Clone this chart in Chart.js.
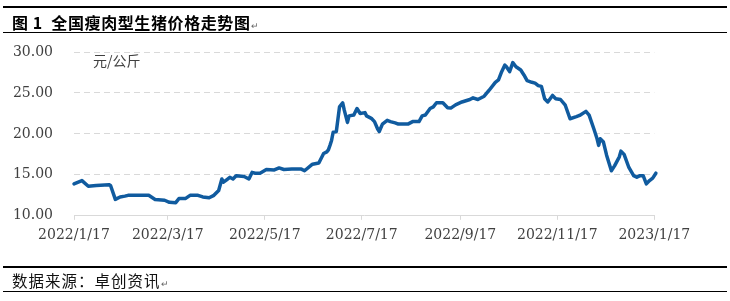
<!DOCTYPE html>
<html>
<head>
<meta charset="utf-8">
<script src="https://cdn.jsdelivr.net/npm/chart.js@4/dist/chart.umd.min.js"></script>
<style>
html,body{margin:0;padding:0;background:#fff;}
#wrap{position:relative;width:730px;height:301px;overflow:hidden;background:#fff;}
#c{position:absolute;left:0;top:0;}
.rule{position:absolute;left:3px;width:724px;height:1.5px;background:#000;}
.title{position:absolute;left:12px;top:11px;font-family:"Noto Sans CJK SC";font-weight:700;font-size:16px;line-height:22px;letter-spacing:0.6px;color:#000;white-space:nowrap;}
.src{position:absolute;left:12px;top:269px;font-family:"Noto Sans CJK SC";font-size:15.5px;line-height:22px;letter-spacing:1px;color:#111;white-space:nowrap;}
.unit{position:absolute;left:93px;top:51px;font-family:"Noto Sans CJK SC";font-size:14px;line-height:18px;color:#404040;white-space:nowrap;}
.pm{font-size:9px;font-weight:400;color:#666;letter-spacing:0;}
</style>
</head>
<body>
<div id="wrap">
  <canvas id="c" width="730" height="301"></canvas>
  <div class="rule" style="top:5.5px;height:2px;"></div>
  <div class="title">图 1&nbsp; 全国瘦肉型生猪价格走势图<span class="pm">↵</span></div>
  <div class="rule" style="top:31.5px;"></div>
  <div class="unit">元/公斤</div>
  <div class="rule" style="top:266px;"></div>
  <div class="src">数据来源：卓创资讯<span class="pm">↵</span></div>
  <div class="rule" style="top:290.5px;"></div>
</div>
<script>
// ---- data ----
const dates = [
  "2022-01-17","2022-01-22","2022-01-26","2022-01-31","2022-02-08","2022-02-09","2022-02-12","2022-02-15",
  "2022-02-18","2022-02-20","2022-03-05","2022-03-09","2022-03-15","2022-03-18","2022-03-22","2022-03-24",
  "2022-03-28","2022-03-31","2022-04-05","2022-04-08","2022-04-12","2022-04-15","2022-04-18","2022-04-20",
  "2022-04-21","2022-04-23","2022-04-25","2022-04-27","2022-04-29","2022-05-04","2022-05-07","2022-05-09",
  "2022-05-11","2022-05-14","2022-05-18","2022-05-23","2022-05-26","2022-05-29","2022-06-03","2022-06-09",
  "2022-06-11","2022-06-16","2022-06-20","2022-06-23","2022-06-25","2022-06-26","2022-06-27","2022-06-28",
  "2022-06-29","2022-07-01","2022-07-03","2022-07-05","2022-07-06","2022-07-08","2022-07-09","2022-07-12",
  "2022-07-14","2022-07-16","2022-07-19","2022-07-20","2022-07-23","2022-07-25","2022-07-27","2022-07-28",
  "2022-07-30","2022-08-02","2022-08-04","2022-08-07","2022-08-09","2022-08-12","2022-08-15","2022-08-18",
  "2022-08-22","2022-08-24","2022-08-26","2022-08-29","2022-08-31","2022-09-02","2022-09-06","2022-09-09",
  "2022-09-11","2022-09-14","2022-09-18","2022-09-23","2022-09-25","2022-09-28","2022-10-02","2022-10-05",
  "2022-10-09","2022-10-11","2022-10-13","2022-10-15","2022-10-16","2022-10-18","2022-10-20","2022-10-22",
  "2022-10-25","2022-10-27","2022-10-29","2022-11-01","2022-11-03","2022-11-05","2022-11-07","2022-11-09",
  "2022-11-11","2022-11-14","2022-11-16","2022-11-19","2022-11-22","2022-11-25","2022-11-29","2022-12-01",
  "2022-12-05","2022-12-07","2022-12-10","2022-12-12","2022-12-13","2022-12-14","2022-12-16","2022-12-18",
  "2022-12-21","2022-12-23","2022-12-26","2022-12-27","2022-12-29","2023-01-01","2023-01-04","2023-01-06",
  "2023-01-08","2023-01-10","2023-01-12","2023-01-14","2023-01-16","2023-01-18"
];
const prices = [
  13.9,14.3,13.6,13.7,13.8,13.7,12.0,12.3,
  12.4,12.5,12.5,12.0,11.9,11.65,11.6,12.1,
  12.1,12.5,12.5,12.3,12.2,12.5,13.1,14.5,
  14.1,14.4,14.7,14.5,14.9,14.8,14.5,15.3,
  15.2,15.2,15.65,15.6,15.85,15.65,15.7,15.7,
  15.5,16.3,16.45,17.6,17.8,18.05,18.6,19.2,
  20.2,20.3,23.3,23.8,22.9,21.4,22.2,22.3,
  23.1,22.5,22.6,22.2,21.9,21.5,20.6,20.3,
  21.2,21.65,21.5,21.35,21.2,21.2,21.2,21.5,
  21.5,22.2,22.3,23.1,23.3,23.8,23.8,23.2,
  23.15,23.55,23.9,24.2,24.4,24.2,24.6,25.3,
  26.3,26.6,27.6,28.4,28.2,27.6,28.7,28.2,
  27.8,27.2,26.5,26.3,26.2,25.9,25.8,24.3,
  23.9,24.7,24.3,24.2,23.5,21.85,22.1,22.25,
  22.75,22.3,20.6,19.4,18.6,19.4,19.0,17.4,
  15.5,16.1,17.2,17.9,17.5,15.9,14.9,14.7,
  14.9,14.9,13.9,14.3,14.6,15.2
];
const xTickLabels = ["2022/1/17","2022/3/17","2022/5/17","2022/7/17","2022/9/17","2022/11/17","2023/1/17"];
const yTicks = [10,15,20,25,30];

// ---- helpers ----
function dayOf(s){
  const p = s.split(/[-\/]/).map(Number);
  return (Date.UTC(p[0],p[1]-1,p[2]) - Date.UTC(2022,0,17)) / 86400000;
}
const xTickDays = xTickLabels.map(dayOf);
const points = dates.map((d,i)=>({x:dayOf(d), y:prices[i]}));

const axisFont = {family:'"DejaVu Serif"', size:14};
const textColor = '#404040';
const gridColor = '#d9d9d9';

new Chart(document.getElementById('c'), {
  type:'line',
  data:{datasets:[{
    data:points,
    borderColor:'#105b9f',
    borderWidth:3.5,
    pointRadius:0,
    tension:0,
    fill:false,
    clip:false,
    borderJoinStyle:'round',
    borderCapStyle:'round'
  }]},
  options:{
    responsive:false,
    animation:false,
    events:[],
    layout:{padding:{top:52,left:0,right:75.7,bottom:55.2}},
    plugins:{legend:{display:false},tooltip:{enabled:false},title:{display:false}},
    scales:{
      x:{
        type:'linear',
        min:xTickDays[0],
        max:xTickDays[xTickDays.length-1],
        afterBuildTicks:(s)=>{ s.ticks = xTickDays.map(v=>({value:v})); },
        afterFit:(s)=>{ s.height = 30; },
        ticks:{
          autoSkip:false, maxRotation:0, minRotation:0, padding:7,
          color:textColor, font:axisFont,
          callback:(v)=>{ const i = xTickDays.indexOf(v); return i>=0 ? xTickLabels[i] : ''; }
        },
        grid:{drawOnChartArea:false, drawTicks:true, tickLength:4, color:gridColor, tickColor:gridColor, lineWidth:1},
        border:{display:true, color:gridColor, width:1}
      },
      y:{
        type:'linear',
        min:yTicks[0],
        max:yTicks[yTicks.length-1],
        afterBuildTicks:(s)=>{ s.ticks = yTicks.map(v=>({value:v})); },
        afterFit:(s)=>{ s.width = 74; },
        ticks:{
          padding:21, color:textColor, font:axisFont,
          callback:(v)=>Number(v).toFixed(2)
        },
        grid:{
          drawTicks:false,
          lineWidth:1,
          color:(ctx)=> (ctx.tick && ctx.tick.value === yTicks[0]) ? 'rgba(0,0,0,0)' : gridColor
        },
        border:{display:false, dash:[6,4]}
      }
    }
  }
});
</script>
</body>
</html>
